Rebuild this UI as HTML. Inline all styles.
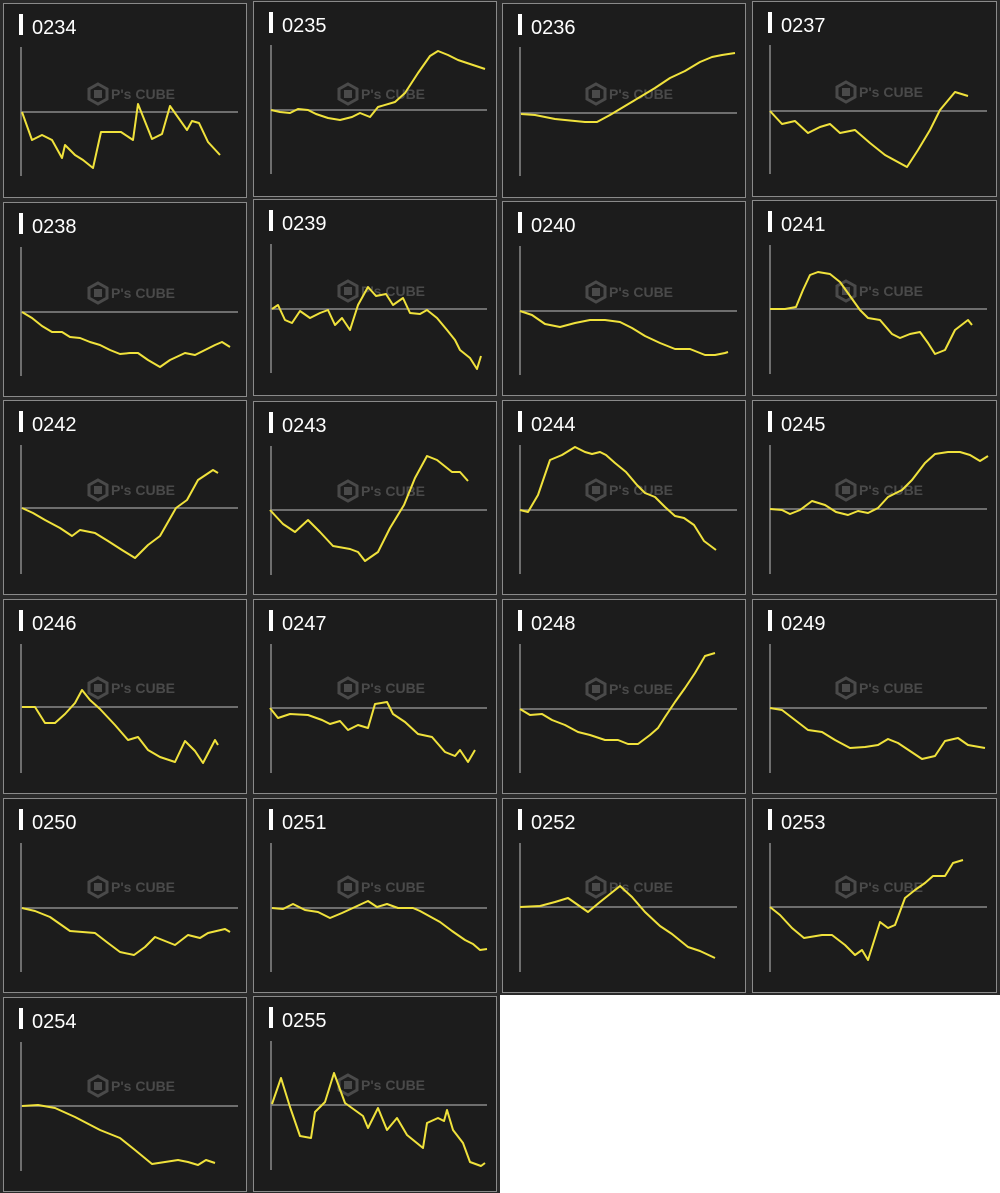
<!DOCTYPE html>
<html><head><meta charset="utf-8"><style>
html,body{margin:0;padding:0;background:#fff}
svg{display:block}
text{font-family:"Liberation Sans",sans-serif}
.p{fill:#1c1c1c;stroke:#8a8a8a;stroke-width:1}
.ax{stroke:#8a8a8a;stroke-width:1.5}
.s{fill:none;stroke:#f0e23c;stroke-width:2;stroke-linejoin:round}
.t{fill:#fff;font-size:20px}
.w{fill:#4a4a4a;font-weight:bold;font-size:14px}
</style></head><body>
<svg width="1000" height="1193" viewBox="0 0 1000 1193" xmlns="http://www.w3.org/2000/svg">
<defs>
<g id="wm"><polygon points="10,0 19,5 19,15 10,20 1,15 1,5" fill="none" stroke="#4a4a4a" stroke-width="3"/><rect x="6" y="6" width="8" height="8" fill="#4a4a4a"/><text x="23" y="15" class="w">P's CUBE</text></g>
</defs>
<rect x="0" y="0" width="1000" height="1193" fill="#2a2a2a"/>
<rect x="500" y="995" width="500" height="198" fill="#fff"/>
<!-- panels -->
<g id="panels">
<rect class="p" x="3.5" y="3.5" width="243" height="194"/>
<rect class="p" x="253.5" y="1.5" width="243" height="195"/>
<rect class="p" x="502.5" y="3.5" width="243" height="194"/>
<rect class="p" x="752.5" y="1.5" width="244" height="195"/>
<rect class="p" x="3.5" y="202.5" width="243" height="194"/>
<rect class="p" x="253.5" y="199.5" width="243" height="196"/>
<rect class="p" x="502.5" y="201.5" width="243" height="194"/>
<rect class="p" x="752.5" y="200.5" width="244" height="195"/>
<rect class="p" x="3.5" y="400.5" width="243" height="194"/>
<rect class="p" x="253.5" y="401.5" width="243" height="193"/>
<rect class="p" x="502.5" y="400.5" width="243" height="194"/>
<rect class="p" x="752.5" y="400.5" width="244" height="194"/>
<rect class="p" x="3.5" y="599.5" width="243" height="194"/>
<rect class="p" x="253.5" y="599.5" width="243" height="194"/>
<rect class="p" x="502.5" y="599.5" width="243" height="194"/>
<rect class="p" x="752.5" y="599.5" width="244" height="194"/>
<rect class="p" x="3.5" y="798.5" width="243" height="194"/>
<rect class="p" x="253.5" y="798.5" width="243" height="194"/>
<rect class="p" x="502.5" y="798.5" width="243" height="194"/>
<rect class="p" x="752.5" y="798.5" width="244" height="194"/>
<rect class="p" x="3.5" y="997.5" width="243" height="194"/>
<rect class="p" x="253.5" y="996.5" width="243" height="195"/>
</g>
<!-- watermarks -->
<use href="#wm" x="88" y="84"/><use href="#wm" x="338" y="84"/><use href="#wm" x="586" y="84"/><use href="#wm" x="836" y="82"/>
<use href="#wm" x="88" y="283"/><use href="#wm" x="338" y="281"/><use href="#wm" x="586" y="282"/><use href="#wm" x="836" y="281"/>
<use href="#wm" x="88" y="480"/><use href="#wm" x="338" y="481"/><use href="#wm" x="586" y="480"/><use href="#wm" x="836" y="480"/>
<use href="#wm" x="88" y="678"/><use href="#wm" x="338" y="678"/><use href="#wm" x="586" y="679"/><use href="#wm" x="836" y="678"/>
<use href="#wm" x="88" y="877"/><use href="#wm" x="338" y="877"/><use href="#wm" x="586" y="877"/><use href="#wm" x="836" y="877"/>
<use href="#wm" x="88" y="1076"/><use href="#wm" x="338" y="1075"/>
<!-- titles -->
<g>
<rect x="19" y="14" width="4" height="21" fill="#fff"/><text class="t" x="32" y="34">0234</text>
<rect x="269" y="12" width="4" height="21" fill="#fff"/><text class="t" x="282" y="32">0235</text>
<rect x="518" y="14" width="4" height="21" fill="#fff"/><text class="t" x="531" y="34">0236</text>
<rect x="768" y="12" width="4" height="21" fill="#fff"/><text class="t" x="781" y="32">0237</text>
<rect x="19" y="213" width="4" height="21" fill="#fff"/><text class="t" x="32" y="233">0238</text>
<rect x="269" y="210" width="4" height="21" fill="#fff"/><text class="t" x="282" y="230">0239</text>
<rect x="518" y="212" width="4" height="21" fill="#fff"/><text class="t" x="531" y="232">0240</text>
<rect x="768" y="211" width="4" height="21" fill="#fff"/><text class="t" x="781" y="231">0241</text>
<rect x="19" y="411" width="4" height="21" fill="#fff"/><text class="t" x="32" y="431">0242</text>
<rect x="269" y="412" width="4" height="21" fill="#fff"/><text class="t" x="282" y="432">0243</text>
<rect x="518" y="411" width="4" height="21" fill="#fff"/><text class="t" x="531" y="431">0244</text>
<rect x="768" y="411" width="4" height="21" fill="#fff"/><text class="t" x="781" y="431">0245</text>
<rect x="19" y="610" width="4" height="21" fill="#fff"/><text class="t" x="32" y="630">0246</text>
<rect x="269" y="610" width="4" height="21" fill="#fff"/><text class="t" x="282" y="630">0247</text>
<rect x="518" y="610" width="4" height="21" fill="#fff"/><text class="t" x="531" y="630">0248</text>
<rect x="768" y="610" width="4" height="21" fill="#fff"/><text class="t" x="781" y="630">0249</text>
<rect x="19" y="809" width="4" height="21" fill="#fff"/><text class="t" x="32" y="829">0250</text>
<rect x="269" y="809" width="4" height="21" fill="#fff"/><text class="t" x="282" y="829">0251</text>
<rect x="518" y="809" width="4" height="21" fill="#fff"/><text class="t" x="531" y="829">0252</text>
<rect x="768" y="809" width="4" height="21" fill="#fff"/><text class="t" x="781" y="829">0253</text>
<rect x="19" y="1008" width="4" height="21" fill="#fff"/><text class="t" x="32" y="1028">0254</text>
<rect x="269" y="1007" width="4" height="21" fill="#fff"/><text class="t" x="282" y="1027">0255</text>
</g>
<!-- axes -->
<g class="ax">
<path d="M21 47V176M21 112H238"/>
<path d="M271 45V174M271 110H487"/>
<path d="M520 47V176M520 113H737"/>
<path d="M770 45V174M770 111H987"/>
<path d="M21 247V376M21 312H238"/>
<path d="M271 244V373M271 309H487"/>
<path d="M520 246V375M520 311H737"/>
<path d="M770 245V374M770 309H987"/>
<path d="M21 445V574M21 508H238"/>
<path d="M271 446V575M271 510H487"/>
<path d="M520 445V574M520 510H737"/>
<path d="M770 445V574M770 509H987"/>
<path d="M21 644V773M21 707H238"/>
<path d="M271 644V773M271 708H487"/>
<path d="M520 644V773M520 709H737"/>
<path d="M770 644V773M770 708H987"/>
<path d="M21 843V972M21 908H238"/>
<path d="M271 843V972M271 908H487"/>
<path d="M520 843V972M520 907H737"/>
<path d="M770 843V972M770 907H987"/>
<path d="M21 1042V1171M21 1106H238"/>
<path d="M271 1041V1170M271 1105H487"/>
</g>
<!-- series -->
<g class="s">
<polyline points="22,112 32,140 42,135 52,140 62,158 65,145 75,155 83,160 93,168 101,132 121,132 133,140 138,104 152,139 162,134 170,106 187,130 192,121 199,123 208,142 220,155"/>
<polyline points="271,110 280,112 290,113 298,109 308,110 316,114 328,118 340,120 352,117 360,113 370,117 378,107 395,102 405,93 418,73 430,56 438,51 448,55 458,60 470,64 485,69"/>
<polyline points="521,114 535,115 545,117 555,119 565,120 575,121 585,122 597,122 610,115 625,106 640,97 655,88 670,78 685,71 700,62 712,57 722,55 735,53"/>
<polyline points="770,111 782,124 795,121 808,133 820,127 830,124 840,133 855,130 870,143 885,155 907,167 918,150 930,130 940,110 955,92 968,96"/>
<polyline points="22,312 32,318 42,326 52,332 62,332 70,337 80,338 90,342 100,345 110,350 120,354 130,353 138,353 148,360 160,367 170,360 185,353 195,355 205,350 215,345 222,342 230,347"/>
<polyline points="272,309 278,305 285,320 292,323 300,311 310,318 320,313 328,310 335,325 342,318 350,330 358,305 368,287 376,296 386,294 393,305 403,298 410,313 420,314 427,310 437,318 447,330 455,340 460,350 470,358 477,369 481,356"/>
<polyline points="520,311 532,315 545,324 560,327 575,323 590,320 605,320 620,322 632,328 645,336 660,343 675,349 690,349 705,355 715,355 725,353 728,352"/>
<polyline points="770,309 785,309 796,307 803,290 810,275 818,272 830,274 840,282 850,296 860,310 868,318 880,320 892,334 900,338 910,334 920,332 928,343 935,354 945,350 955,330 968,320 972,325"/>
<polyline points="22,508 33,513 45,520 60,528 72,536 80,530 95,533 108,541 122,550 135,558 148,545 160,536 176,508 187,500 198,480 213,470 218,473"/>
<polyline points="270,510 283,524 295,532 308,520 320,532 333,546 350,549 358,552 365,561 378,552 390,528 404,505 415,478 427,456 437,460 452,472 460,472 468,481"/>
<polyline points="520,510 528,512 538,495 550,460 562,455 575,447 585,452 592,454 600,452 606,455 615,463 626,472 637,485 645,493 655,497 665,507 675,516 684,518 694,525 704,541 716,550"/>
<polyline points="770,509 782,510 790,514 800,510 812,501 825,505 836,512 848,515 858,511 868,513 878,508 888,497 902,490 912,480 925,463 935,454 948,452 960,452 970,455 980,461 988,456"/>
<polyline points="22,707 35,707 45,723 55,723 65,714 75,703 82,690 90,700 100,709 115,725 128,740 138,737 148,750 160,757 175,762 185,741 195,751 203,763 215,740 218,745"/>
<polyline points="270,708 278,718 290,714 308,715 322,720 330,724 340,721 348,730 358,725 368,728 375,704 387,702 393,714 405,722 418,734 432,737 445,752 455,756 460,750 468,762 475,750"/>
<polyline points="520,709 530,715 542,714 552,720 565,725 578,732 590,735 605,740 618,740 628,744 638,744 650,735 658,728 665,717 675,702 685,688 695,673 705,656 715,653"/>
<polyline points="770,708 782,710 795,720 808,730 822,732 835,740 850,748 865,747 878,745 888,739 898,743 910,751 922,759 935,756 945,741 958,738 968,745 985,748"/>
<polyline points="22,908 35,911 50,917 70,931 95,933 108,943 120,952 134,955 145,947 155,937 175,945 188,935 200,938 208,933 225,929 230,932"/>
<polyline points="272,908 283,909 293,904 305,910 318,912 330,918 342,913 355,907 368,901 377,907 387,904 398,908 413,908 420,911 440,922 452,931 465,940 473,944 480,950 487,949"/>
<polyline points="520,907 540,906 555,902 568,898 578,905 588,912 600,902 610,894 620,886 632,897 645,912 660,926 672,934 688,947 700,951 715,958"/>
<polyline points="770,907 780,915 792,928 804,938 822,935 832,935 845,945 855,955 862,950 868,960 880,922 888,928 895,925 905,898 915,890 925,883 933,876 945,876 953,863 963,860"/>
<polyline points="22,1106 38,1105 55,1108 75,1117 100,1130 120,1138 135,1150 152,1164 165,1162 178,1160 188,1162 198,1165 206,1160 215,1163"/>
<polyline points="272,1104 281,1078 290,1107 300,1136 311,1138 315,1112 325,1102 334,1073 345,1103 363,1116 368,1128 378,1108 387,1130 397,1118 407,1135 423,1148 427,1123 438,1118 444,1121 447,1110 453,1130 463,1143 470,1162 481,1166 485,1163"/>
</g>
</svg>
</body></html>
